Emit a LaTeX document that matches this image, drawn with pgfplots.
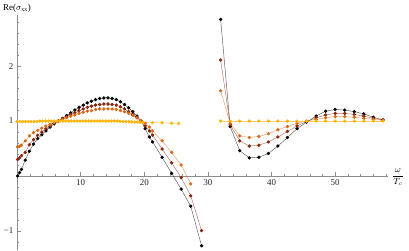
\documentclass[border=0pt]{standalone}
\usepackage{fontspec}
\setmainfont{Liberation Serif}
\usepackage{pgfplots}
\pgfplotsset{compat=1.18}
\definecolor{cA}{RGB}{0,0,0}
\definecolor{cB}{RGB}{135,35,10}
\definecolor{cC}{RGB}{215,105,20}
\definecolor{cD}{RGB}{255,180,10}
\begin{document}
\begin{tikzpicture}
\begin{axis}[
  scale only axis, width=371.4bp, height=235.4bp,
  xmin=0, xmax=58.3, ymin=-1.35, ymax=2.93,
  axis lines=middle,
  axis line style={black!45, line width=0.5pt, -},
  xtick={10,20,30,40,50}, ytick={-1,1,2}, yticklabels={−1,1,2},
  minor xtick={2,4,6,8,12,14,16,18,22,24,26,28,32,34,36,38,42,44,46,48,52,54,56,58},
  minor ytick={-1.2,-0.8,-0.6,-0.4,-0.2,0.2,0.4,0.6,0.8,1.2,1.4,1.6,1.8,2.2,2.4,2.6,2.8},
  tick style={black!45, line width=0.4pt},
  major tick length=4bp, minor tick length=2.2bp,
  tick align=inside,
  ticklabel style={font=\fontsize{9}{10}\selectfont, text=black!85},
  /pgf/number format/assume math mode=true,
  clip=false,
  every axis plot/.append style={line width=0.45pt, mark=*, mark size=1.45bp},
]
\coordinate (ll) at (rel axis cs:0,0);
\coordinate (ur) at (rel axis cs:1,1);
% black
\addplot[color=cA, draw opacity=0.65, mark options={fill=cA, draw=cA, draw opacity=1}] coordinates {
(0.1,0.0)(0.4,0.06)(0.7,0.12)(1.3,0.29)(1.95,0.45)(2.6,0.58)(3.25,0.68)(3.9,0.75)(4.55,0.82)(5.2,0.89)(5.85,0.95)(6.5,1.0)(7.15,1.05)(7.8,1.10)(8.45,1.15)(9.1,1.20)(9.75,1.25)(10.4,1.29)(11.05,1.33)(11.7,1.36)(12.35,1.39)(13.0,1.41)(13.65,1.42)(14.3,1.42)(14.95,1.41)(15.6,1.39)(16.25,1.35)(16.9,1.30)(17.55,1.24)(18.2,1.17)(18.85,1.09)(19.5,1.0)(20.15,0.86)(20.8,0.71)(21.3,0.62)(22.8,0.34)(24.3,0.05)(25.8,-0.24)(27.3,-0.55)(29.0,-1.27)};
\addplot[color=cA, draw opacity=0.65, mark options={fill=cA, draw=cA, draw opacity=1}] coordinates {
(32,2.85)(33.5,0.9)(35,0.46)(36.5,0.33)(38,0.34)(39.5,0.41)(41,0.545)(42.5,0.70)(44,0.86)(45.5,0.98)(47,1.09)(48.5,1.18)(50,1.21)(51.5,1.20)(53,1.17)(54.5,1.13)(56,1.07)(57.5,1.02)};
% dark red
\addplot[color=cB, draw opacity=0.65, mark options={fill=cB, draw=cB, draw opacity=1}] coordinates {
(0.1,0.30)(0.4,0.33)(0.7,0.37)(1.3,0.43)(1.95,0.57)(2.6,0.66)(3.25,0.74)(3.9,0.80)(4.55,0.86)(5.2,0.91)(5.85,0.96)(6.5,1.0)(7.15,1.04)(7.8,1.08)(8.45,1.12)(9.1,1.15)(9.75,1.19)(10.4,1.22)(11.05,1.25)(11.7,1.27)(12.35,1.29)(13.0,1.30)(13.65,1.31)(14.3,1.31)(14.95,1.30)(15.6,1.29)(16.25,1.26)(16.9,1.22)(17.55,1.17)(18.2,1.12)(18.85,1.06)(19.5,0.99)(20.15,0.91)(20.8,0.82)(21.3,0.745)(22.8,0.49)(24.3,0.24)(25.8,-0.03)(27.3,-0.36)(29.0,-0.995)};
\addplot[color=cB, draw opacity=0.65, mark options={fill=cB, draw=cB, draw opacity=1}] coordinates {
(32,2.11)(33.5,0.93)(35,0.64)(36.5,0.545)(38,0.56)(39.5,0.62)(41,0.71)(42.5,0.81)(44,0.91)(45.5,0.99)(47,1.06)(48.5,1.11)(50,1.14)(51.5,1.14)(53,1.12)(54.5,1.09)(56,1.05)(57.5,1.02)};
% orange
\addplot[color=cC, draw opacity=0.65, mark options={fill=cC, draw=cC, draw opacity=1}] coordinates {
(0.1,0.53)(0.4,0.54)(0.7,0.56)(1.3,0.64)(1.95,0.73)(2.6,0.79)(3.25,0.83)(3.9,0.87)(4.55,0.91)(5.2,0.94)(5.85,0.97)(6.5,1.0)(7.15,1.03)(7.8,1.06)(8.45,1.09)(9.1,1.11)(9.75,1.14)(10.4,1.16)(11.05,1.18)(11.7,1.19)(12.35,1.21)(13.0,1.22)(13.65,1.22)(14.3,1.22)(14.95,1.22)(15.6,1.21)(16.25,1.19)(16.9,1.17)(17.55,1.14)(18.2,1.10)(18.85,1.06)(19.5,1.01)(20.15,0.96)(20.8,0.89)(21.3,0.82)(22.8,0.64)(24.3,0.43)(25.8,0.20)(27.3,-0.145)};
\addplot[color=cC, draw opacity=0.65, mark options={fill=cC, draw=cC, draw opacity=1}] coordinates {
(32,1.55)(33.5,0.96)(35,0.73)(36.5,0.70)(38,0.72)(39.5,0.77)(41,0.84)(42.5,0.90)(44,0.96)(45.5,1.0)(47,1.03)(48.5,1.06)(50,1.08)(51.5,1.08)(53,1.07)(54.5,1.05)(56,1.03)(57.5,1.01)};
% gold
\addplot[color=cD, draw opacity=0.65, mark options={fill=cD, draw=cD, draw opacity=1}] coordinates {
(0,0.99)(0.45,0.99)(0.9,0.99)(1.35,0.99)(1.8,0.99)(2.25,0.99)(2.7,0.99)(3.15,0.99)(3.6,1.0)(4.05,1.0)(4.5,1.0)(4.95,1.0)(5.4,1.0)(5.85,1.0)(6.3,1.0)(6.75,1.0)(7.2,1.0)(7.65,1.0)(8.1,1.0)(8.55,1.0)(9.0,1.0)(9.45,1.0)(9.9,1.0)(10.35,1.0)(10.8,1.0)(11.25,1.0)(11.7,1.0)(12.15,1.0)(12.6,1.0)(13.05,1.0)(13.5,1.0)(13.95,1.0)(14.4,1.0)(14.85,1.0)(15.3,1.0)(15.75,1.0)(16.2,0.995)(16.65,0.99)(17.1,0.99)(17.55,0.99)(18.0,0.985)(18.45,0.98)(18.9,0.98)(19.35,0.98)(19.8,0.975)(21.3,0.97)(22.8,0.97)(24.3,0.96)(25.4,0.955)};
\addplot[color=cD, draw opacity=0.65, mark options={fill=cD, draw=cD, draw opacity=1}] coordinates {
(32,1.0)(33.5,1.0)(35,1.0)(36.5,1.0)(38,1.0)(39.5,1.0)(41,1.0)(42.5,1.0)(44,1.0)(45.5,1.0)(47,1.0)(48.5,1.0)(50,1.0)(51.5,1.0)(53,1.0)(54.5,1.0)(56,1.0)(57.5,1.0)};
\node[anchor=west, font=\fontsize{9}{10}\selectfont, inner sep=0pt] at (rel axis cs:0,1) [xshift=-14bp, yshift=6.5bp] {Re($\sigma_{\mathrm{xx}}$)};
\node[anchor=west, font=\fontsize{9}{10}\selectfont, inner sep=0pt] at (axis cs:58.3,0) [xshift=4bp, yshift=-1bp] {$\displaystyle\frac{\omega}{T_c}$};
\end{axis}
\pgfresetboundingbox
\path[use as bounding box] ([xshift=-17bp,yshift=-0.75bp]ll) rectangle ([xshift=21bp,yshift=15bp]ur);
\end{tikzpicture}
\end{document}
